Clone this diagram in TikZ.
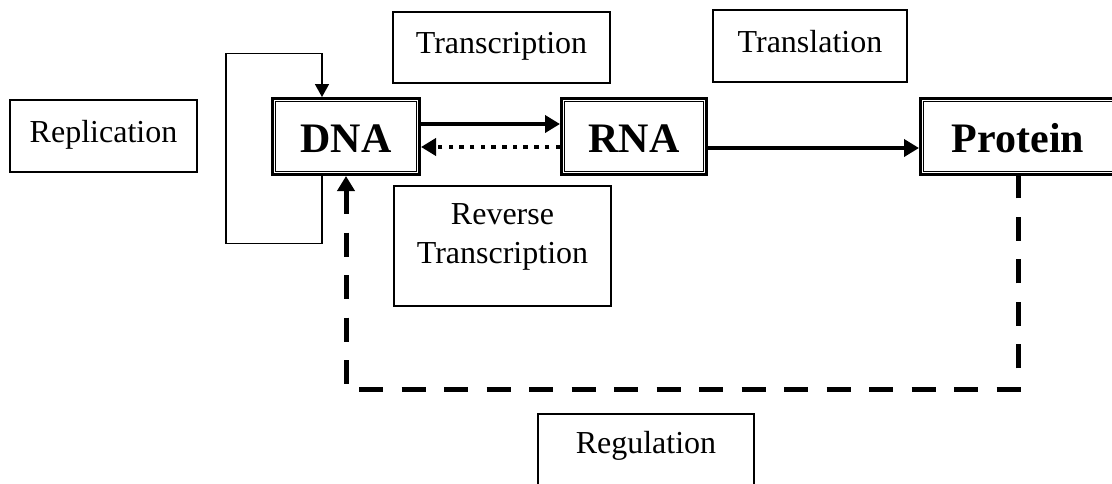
\documentclass[tikz,border=0pt]{standalone}
\usepackage{fontspec}
\setmainfont{Liberation Serif}
\usetikzlibrary{arrows.meta,calc}
\begin{document}
\begin{tikzpicture}[x=1pt,y=-1pt,
  labelbox/.style={draw, line width=1.6pt, inner sep=0pt,
    font=\fontsize{32}{39}\selectfont},
  mol/.style={draw, line width=3pt, inner sep=0pt, minimum height=76pt,
    font=\bfseries\fontsize{42}{48}\selectfont, text height=34pt, text depth=3pt},
  molinner/.style={draw, line width=1.2pt},
  flow/.style={line width=4.2pt, -{Triangle[length=15pt,width=17pt]}},
  loopline/.style={line width=1.6pt, -{Triangle[length=13pt,width=14pt]}},
  regline/.style={line width=5pt, dash pattern=on 24pt off 18.5pt,
    {Triangle[length=15pt,width=17pt]}-}
]
\useasboundingbox (0,0) rectangle (1112,483);
\clip (0,0) rectangle (1112,483);

% molecules (double-framed boxes)
\node[mol, minimum width=147pt] (dna)  at (346,136.5)  {DNA};
\node[mol, minimum width=145pt] (rna)  at (634,136.5)  {RNA};
\node[mol, minimum width=195pt] (prot) at (1018,136.5) {Protein};
\foreach \n in {dna,rna,prot}
  \draw[molinner] ([shift={(4.6,4.6)}]\n.north west) rectangle ([shift={(-4.6,-4.6)}]\n.south east);

% process labels
\node[labelbox, minimum width=187pt, minimum height=72pt, text height=22pt, text depth=10pt]
  (rep) at (103.5,136) {Replication};
\node[labelbox, minimum width=217pt, minimum height=71pt, text height=22pt, text depth=11pt]
  (tsc) at (501.5,47.5) {Transcription};
\node[labelbox, minimum width=194pt, minimum height=72pt, text height=22pt, text depth=10pt]
  (tsl) at (810,46) {Translation};
\node[labelbox, minimum width=217pt, minimum height=120pt, align=center]
  (rev) at (502.5,246) {Reverse\\Transcription\rule[-25pt]{0pt}{0pt}};
\node[labelbox, anchor=north, minimum width=216pt, inner ysep=18pt, text height=22pt, text depth=60pt]
  (reg) at (646,413) {Regulation};

% transfers of information
\draw[flow] ([yshift=12.5pt]dna.east) -- ([yshift=12.5pt]rna.west);
\draw[flow, dash pattern=on 4.5pt off 6.2pt] ([yshift=-10.5pt]rna.west) -- ([yshift=-10.5pt]dna.east);
\draw[flow, line width=4.6pt] ([yshift=-11.5pt]rna.east) -- ([yshift=-11.5pt]prot.west);

% replication loop
\draw[loopline] ([xshift=-24pt]dna.south) -- ++(0,67.5) -| ++(-96,-190) -| ([xshift=-24pt]dna.north);

% regulation feedback
\draw[regline] (dna.south) -- ++(0,213.5) -| (prot.south);
\end{tikzpicture}
\end{document}
